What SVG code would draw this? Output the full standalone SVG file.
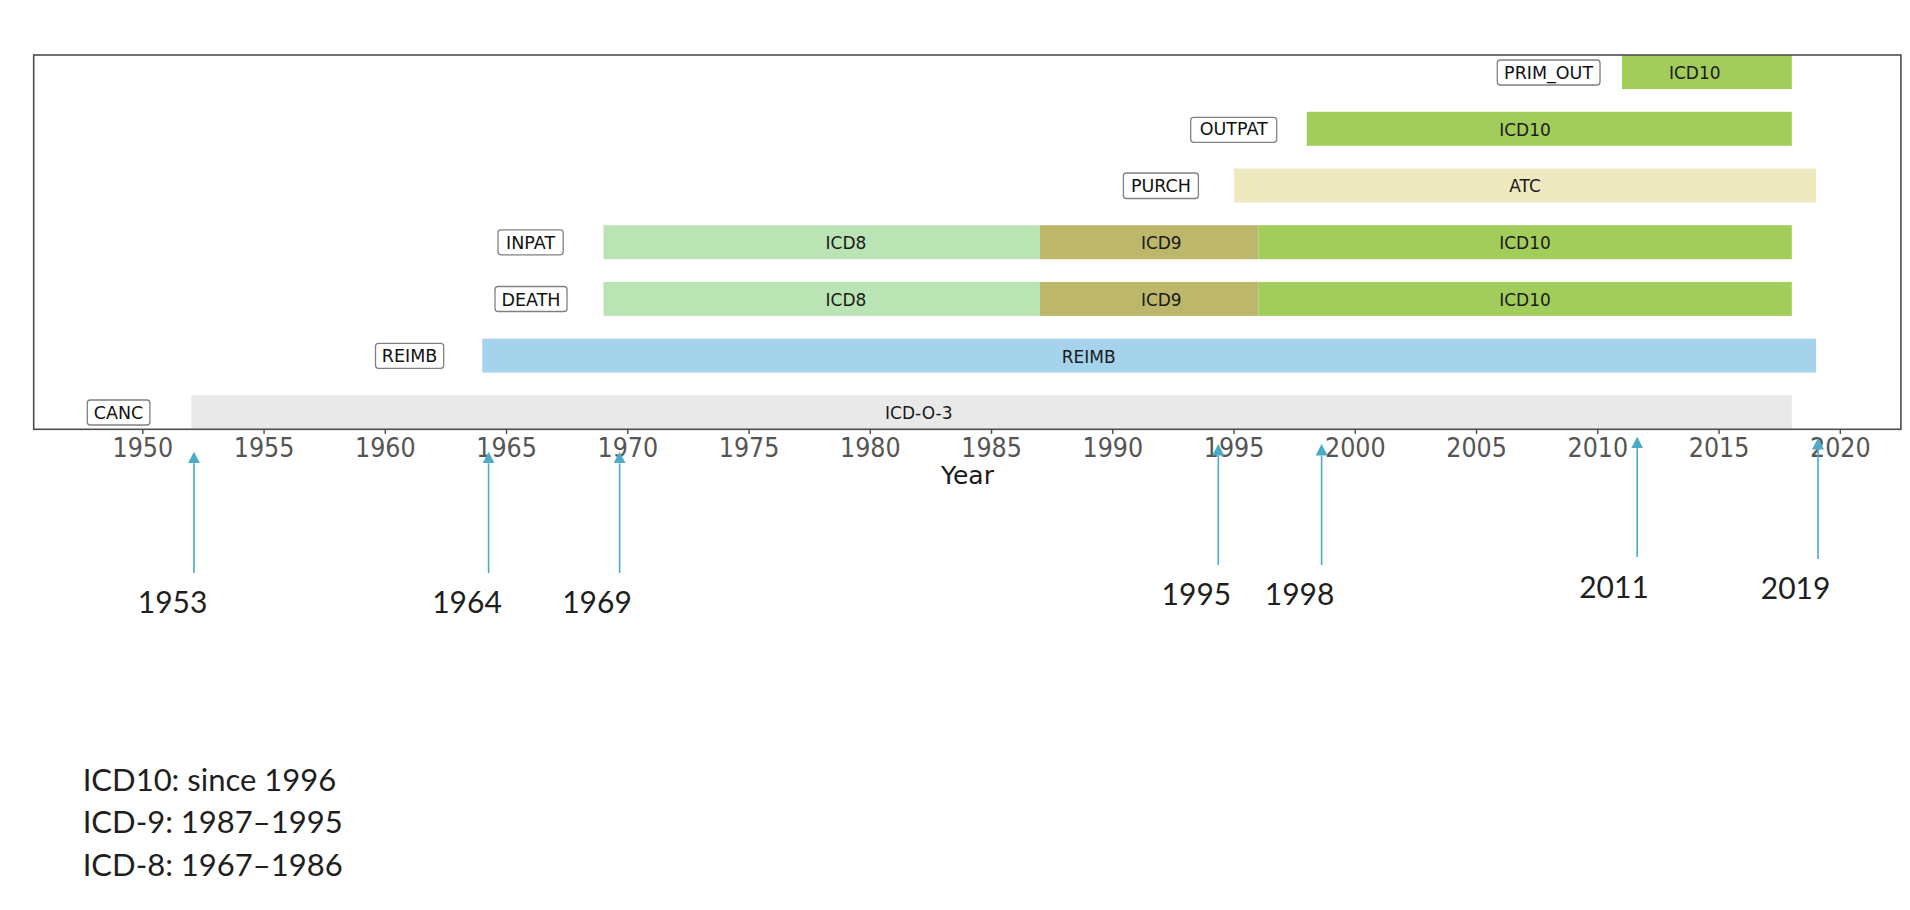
<svg xmlns="http://www.w3.org/2000/svg" width="1910" height="910" viewBox="0 0 1910 910">
<defs>
<style>
.bg{fill:#ffffff}
.frame{fill:none;stroke:#4d4d4d;stroke-width:1.6}
.tickmark{stroke:#4d4d4d;stroke-width:1.4}
.tick{font-family:"DejaVu Sans",sans-serif;font-size:26.5px;fill:#555555;text-anchor:middle}
.axlabel{font-family:"DejaVu Sans",sans-serif;font-size:25px;fill:#1a1a1a;text-anchor:middle}
.bartxt{font-family:"DejaVu Sans",sans-serif;font-size:17px;fill:#1a1a1a;text-anchor:middle}
.boxtxt{font-family:"DejaVu Sans",sans-serif;font-size:17.5px;fill:#111111;text-anchor:middle}
.box{fill:#ffffff;stroke:#808080;stroke-width:1.3}
.canc{fill:#e9e9e9}
.reimb{fill:#a5d3ec}
.icd8{fill:#bbe4b4}
.icd9{fill:#bdb76b}
.icd10{fill:#a2cd5a}
.atc{fill:#eee9bf}
.arrow{stroke:#4bacc6;stroke-width:1.6;fill:none;marker-end:url(#head)}
.ann{font-family:Lato,"Liberation Sans",sans-serif;font-size:30px;fill:#1f1f1f;text-anchor:middle}
.legend{font-family:Lato,"Liberation Sans",sans-serif;font-size:31px;fill:#1f1f1f}
</style>
<marker id="head" viewBox="0 0 11.6 12" refX="0" refY="6" markerWidth="11.6" markerHeight="12" markerUnits="userSpaceOnUse" orient="auto">
<path d="M0,0 L11.6,6 L0,12 z" fill="#4bacc6"/>
</marker>
</defs>
<rect class="bg" x="0" y="0" width="1910" height="910"/>

<g id="row-CANC">
<rect class="canc" x="191.3" y="395.3" width="1600.5" height="34"/>
<text class="bartxt" x="918.8" y="419.2">ICD-O-3</text>
<rect class="box" x="87.3" y="400" width="62.6" height="25" rx="3"/>
<text class="boxtxt" x="118.6" y="418.9">CANC</text>
</g>

<g id="row-REIMB">
<rect class="reimb" x="482.3" y="338.6" width="1333.8" height="34"/>
<text class="bartxt" x="1088.6" y="362.5">REIMB</text>
<rect class="box" x="375.5" y="343.3" width="68.2" height="25" rx="3"/>
<text class="boxtxt" x="409.6" y="362.2">REIMB</text>
</g>

<g id="row-DEATH">
<rect class="icd8" x="603.5" y="281.9" width="436.5" height="34"/>
<rect class="icd9" x="1040" y="281.9" width="218.3" height="34"/>
<rect class="icd10" x="1258.3" y="281.9" width="533.5" height="34"/>
<text class="bartxt" x="846" y="305.8">ICD8</text>
<text class="bartxt" x="1161.3" y="305.8">ICD9</text>
<text class="bartxt" x="1525" y="305.8">ICD10</text>
<rect class="box" x="495" y="286.5" width="72" height="25" rx="3"/>
<text class="boxtxt" x="531" y="305.5">DEATH</text>
</g>

<g id="row-INPAT">
<rect class="icd8" x="603.5" y="225.2" width="436.5" height="34"/>
<rect class="icd9" x="1040" y="225.2" width="218.3" height="34"/>
<rect class="icd10" x="1258.3" y="225.2" width="533.5" height="34"/>
<text class="bartxt" x="846" y="249.1">ICD8</text>
<text class="bartxt" x="1161.3" y="249.1">ICD9</text>
<text class="bartxt" x="1525" y="249.1">ICD10</text>
<rect class="box" x="498" y="229.8" width="65.2" height="25" rx="3"/>
<text class="boxtxt" x="530.6" y="248.8">INPAT</text>
</g>

<g id="row-PURCH">
<rect class="atc" x="1234.1" y="168.5" width="582" height="34"/>
<text class="bartxt" x="1525" y="192.4">ATC</text>
<rect class="box" x="1123.4" y="173" width="75" height="25.5" rx="3"/>
<text class="boxtxt" x="1160.9" y="192.1">PURCH</text>
</g>

<g id="row-OUTPAT">
<rect class="icd10" x="1306.8" y="111.8" width="485" height="34"/>
<text class="bartxt" x="1525" y="135.7">ICD10</text>
<rect class="box" x="1190.7" y="117.3" width="86" height="25" rx="3"/>
<text class="boxtxt" x="1233.7" y="135.4">OUTPAT</text>
</g>

<g id="row-PRIM_OUT">
<rect class="icd10" x="1622" y="55.1" width="169.8" height="34"/>
<text class="bartxt" x="1694.8" y="79">ICD10</text>
<rect class="box" x="1497.3" y="60" width="102.7" height="25" rx="3"/>
<text class="boxtxt" x="1548.6" y="78.9">PRIM_OUT</text>
</g>

<g id="axes">
<rect class="frame" x="33.7" y="55" width="1867.2" height="374.3"/>
<g id="ticks">
<line class="tickmark" x1="142.8" y1="429.3" x2="142.8" y2="434"/>
<line class="tickmark" x1="264.05" y1="429.3" x2="264.05" y2="434"/>
<line class="tickmark" x1="385.3" y1="429.3" x2="385.3" y2="434"/>
<line class="tickmark" x1="506.55" y1="429.3" x2="506.55" y2="434"/>
<line class="tickmark" x1="627.8" y1="429.3" x2="627.8" y2="434"/>
<line class="tickmark" x1="749.05" y1="429.3" x2="749.05" y2="434"/>
<line class="tickmark" x1="870.3" y1="429.3" x2="870.3" y2="434"/>
<line class="tickmark" x1="991.55" y1="429.3" x2="991.55" y2="434"/>
<line class="tickmark" x1="1112.8" y1="429.3" x2="1112.8" y2="434"/>
<line class="tickmark" x1="1234.05" y1="429.3" x2="1234.05" y2="434"/>
<line class="tickmark" x1="1355.3" y1="429.3" x2="1355.3" y2="434"/>
<line class="tickmark" x1="1476.55" y1="429.3" x2="1476.55" y2="434"/>
<line class="tickmark" x1="1597.8" y1="429.3" x2="1597.8" y2="434"/>
<line class="tickmark" x1="1719.05" y1="429.3" x2="1719.05" y2="434"/>
<line class="tickmark" x1="1840.3" y1="429.3" x2="1840.3" y2="434"/>
</g>
<g id="ticklabels">
<text class="tick" transform="translate(142.8 456.7) scale(0.9 1)">1950</text>
<text class="tick" transform="translate(264.05 456.7) scale(0.9 1)">1955</text>
<text class="tick" transform="translate(385.3 456.7) scale(0.9 1)">1960</text>
<text class="tick" transform="translate(506.55 456.7) scale(0.9 1)">1965</text>
<text class="tick" transform="translate(627.8 456.7) scale(0.9 1)">1970</text>
<text class="tick" transform="translate(749.05 456.7) scale(0.9 1)">1975</text>
<text class="tick" transform="translate(870.3 456.7) scale(0.9 1)">1980</text>
<text class="tick" transform="translate(991.55 456.7) scale(0.9 1)">1985</text>
<text class="tick" transform="translate(1112.8 456.7) scale(0.9 1)">1990</text>
<text class="tick" transform="translate(1234.05 456.7) scale(0.9 1)">1995</text>
<text class="tick" transform="translate(1355.3 456.7) scale(0.9 1)">2000</text>
<text class="tick" transform="translate(1476.55 456.7) scale(0.9 1)">2005</text>
<text class="tick" transform="translate(1597.8 456.7) scale(0.9 1)">2010</text>
<text class="tick" transform="translate(1719.05 456.7) scale(0.9 1)">2015</text>
<text class="tick" transform="translate(1840.3 456.7) scale(0.9 1)">2020</text>
</g>
<text class="axlabel" x="967.5" y="484.3">Year</text>
</g>

<g id="connectors">
<line class="arrow" x1="194" y1="573" x2="194" y2="463.3"/>
<line class="arrow" x1="488.6" y1="573" x2="488.6" y2="463.3"/>
<line class="arrow" x1="619.6" y1="573" x2="619.6" y2="463.3"/>
<line class="arrow" x1="1218.3" y1="565" x2="1218.3" y2="455.6"/>
<line class="arrow" x1="1321.6" y1="565" x2="1321.6" y2="455.6"/>
<line class="arrow" x1="1637.2" y1="557" x2="1637.2" y2="448.3"/>
<line class="arrow" x1="1818" y1="559" x2="1818" y2="449.6"/>
</g>

<g id="ann-1953"><text class="ann" x="172.6" y="613.3">1953</text></g>
<g id="ann-1964"><text class="ann" x="467" y="613.3">1964</text></g>
<g id="ann-1969"><text class="ann" x="597" y="613.3">1969</text></g>
<g id="ann-1995"><text class="ann" x="1196.4" y="605">1995</text></g>
<g id="ann-1998"><text class="ann" x="1299.6" y="605">1998</text></g>
<g id="ann-2011"><text class="ann" x="1614" y="598.3">2011</text></g>
<g id="ann-2019"><text class="ann" x="1795.6" y="599.3">2019</text></g>

<g id="legend">
<text class="legend" x="82.7" y="790.7">ICD10: since 1996</text>
<text class="legend" x="82.7" y="833">ICD-9: 1987–1995</text>
<text class="legend" x="82.7" y="876">ICD-8: 1967–1986</text>
</g>
</svg>
